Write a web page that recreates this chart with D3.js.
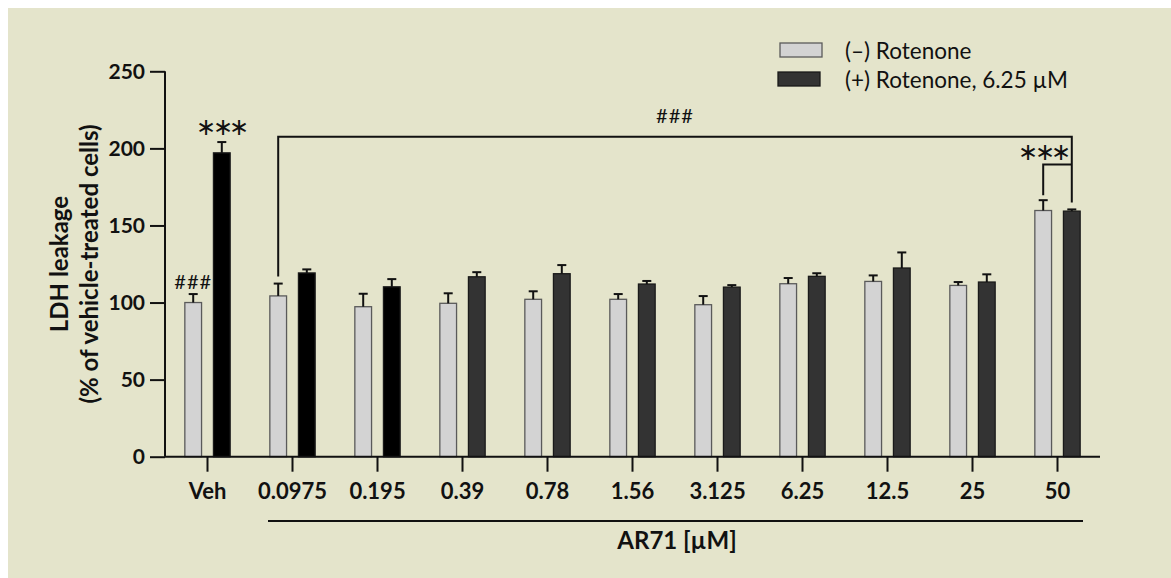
<!DOCTYPE html>
<html>
<head>
<meta charset="utf-8">
<script src="https://cdn.jsdelivr.net/npm/d3@7"></script>
<style>
  html, body { margin: 0; padding: 0; background: #ffffff; }
  svg { display: block; }
  text { font-family: Lato, "Open Sans", sans-serif; fill: #111; }
</style>
</head>
<body>
<svg id="chart" width="1171" height="578"></svg>
<script>
// LDH leakage per treatment group
const categories = ["Veh", "0.0975", "0.195", "0.39", "0.78", "1.56", "3.125", "6.25", "12.5", "25", "50"];
const seriesNames = ["(\u2013) Rotenone", "(+) Rotenone, 6.25 \u00b5M"];
const minusRotenone = [100, 104.3, 97.3, 99.5, 102.1, 102.1, 98.6, 112.2, 113.7, 111.1, 159.7];
const minusRotenoneSem = [5.5, 8.0, 8.4, 6.5, 5.2, 3.4, 5.6, 3.7, 3.9, 2.2, 6.7];
const plusRotenone = [197.1, 119.2, 110.2, 116.7, 118.7, 112.0, 110.0, 117.0, 122.4, 113.3, 159.3];
const plusRotenoneSem = [7.0, 2.3, 5.0, 3.0, 5.6, 2.0, 1.3, 2.0, 10.1, 5.0, 1.1];
const yTicks = [0, 50, 100, 150, 200, 250];
// significance bracket levels (in y units)
const bracketOuterLevel = 207.5;
const bracketInnerLevel = 189.6;

const svg = d3.select("#chart");
const W = 1171, H = 578;

svg.append("rect").attr("x", 8).attr("y", 8).attr("width", W - 8).attr("height", H - 8)
  .attr("fill", "#e4e4cb");

const x0 = d3.scaleBand().domain(categories).range([165, 1100]).padding(0);
const x1 = d3.scaleBand().domain([0, 1]).range([0, x0.bandwidth()])
  .paddingInner(0.416).paddingOuter(0.694);
const y = d3.scaleLinear().domain([0, 250]).range([456.7, 71.3]);

const rows = categories.map((c, i) => ({
  cat: c, i,
  bars: [
    { s: 0, v: minusRotenone[i], e: minusRotenoneSem[i] },
    { s: 1, v: plusRotenone[i], e: plusRotenoneSem[i] }
  ]
}));

const cx = (cat, s) => x0(cat) + x1(s) + x1.bandwidth() / 2;

// bars with upper SEM whiskers
const g = svg.append("g");
const groups = g.selectAll("g.cat").data(rows).join("g").attr("class", "cat");
groups.each(function (row) {
  const sel = d3.select(this);
  row.bars.forEach(b => {
    const fill = b.s === 0 ? "#d3d3d3" : (row.i < 3 ? "#000000" : "#333333");
    const stroke = b.s === 0 ? "#5a5a5a" : "#1a1a1a";
    const xl = x0(row.cat) + x1(b.s);
    sel.append("rect")
      .attr("x", xl).attr("y", y(b.v))
      .attr("width", x1.bandwidth()).attr("height", y(0) - y(b.v))
      .attr("fill", fill).attr("stroke", stroke).attr("stroke-width", 1.3);
    const c = cx(row.cat, b.s);
    sel.append("line").attr("x1", c).attr("x2", c)
      .attr("y1", y(b.v)).attr("y2", y(b.v + b.e))
      .attr("stroke", "#111").attr("stroke-width", 2);
    sel.append("line").attr("x1", c - 4.5).attr("x2", c + 4.5)
      .attr("y1", y(b.v + b.e)).attr("y2", y(b.v + b.e))
      .attr("stroke", "#111").attr("stroke-width", 2);
  });
});

// y axis
const yAxis = d3.axisLeft(y).tickValues(yTicks).tickSize(15).tickPadding(5);
const ya = svg.append("g").attr("transform", "translate(165,0)").call(yAxis);
ya.select(".domain").attr("stroke", "#111").attr("stroke-width", 2)
  .attr("d", `M0,${y(250)}V${y(0)}`);
ya.selectAll(".tick line").attr("stroke", "#111").attr("stroke-width", 2);
ya.selectAll(".tick text").attr("font-family", "Lato").attr("font-weight", 700)
  .attr("font-size", 21).attr("fill", "#111");

// x axis
const xAxis = d3.axisBottom(x0).tickSize(15).tickPadding(12);
const xa = svg.append("g").attr("transform", `translate(0,${y(0)})`).call(xAxis);
xa.select(".domain").attr("stroke", "#111").attr("stroke-width", 2)
  .attr("d", `M165,0H1100`);
xa.selectAll(".tick line").attr("stroke", "#111").attr("stroke-width", 2);
xa.selectAll(".tick text").attr("font-family", "Lato").attr("font-weight", 700)
  .attr("font-size", 22).attr("fill", "#111");

// y title
const yt = svg.append("text").attr("transform", `translate(0,${(y(0) + y(250)) / 2}) rotate(-90)`)
  .attr("text-anchor", "middle").attr("font-weight", 700).attr("font-size", 24);
yt.append("tspan").attr("x", 0).attr("y", 68).text("LDH leakage");
yt.append("tspan").attr("x", 0).attr("y", 98).text("(% of vehicle-treated cells)");

// x group bar and title
svg.append("line").attr("x1", x0("0.0975") + 18).attr("x2", x0.range()[1] - 17)
  .attr("y1", 521).attr("y2", 521).attr("stroke", "#111").attr("stroke-width", 2);
svg.append("text").attr("x", 677).attr("y", 549).attr("text-anchor", "middle")
  .attr("font-weight", 700).attr("font-size", 24).text("AR71 [\u00b5M]");

// significance marks
const hashStyle = sel => sel.attr("font-family", "DejaVu Sans").attr("font-size", 20)
  .attr("letter-spacing", 1).attr("text-anchor", "middle").attr("fill", "#111");
const starStyle = sel => sel.attr("font-family", "DejaVu Sans").attr("font-size", 24)
  .attr("letter-spacing", -3.5).attr("text-anchor", "middle").attr("fill", "#111");

svg.append("text").attr("x", cx("Veh", 0)).attr("y", y(minusRotenone[0] + minusRotenoneSem[0]) - 5)
  .call(hashStyle).text("###");
svg.append("text").attr("x", cx("Veh", 1) - 1).attr("y", y(plusRotenone[0] + plusRotenoneSem[0]) - 7)
  .call(starStyle).text("\u2217\u2217\u2217");

const xa1 = cx("0.0975", 0), xb1 = cx("50", 1), xb0 = cx("50", 0);
svg.append("path").attr("fill", "none").attr("stroke", "#111").attr("stroke-width", 2)
  .attr("d", `M${xa1},${y(minusRotenone[1] + minusRotenoneSem[1]) - 7}V${y(bracketOuterLevel)}H${xb1}V${y(plusRotenone[10] + plusRotenoneSem[10]) - 7}`);
svg.append("path").attr("fill", "none").attr("stroke", "#111").attr("stroke-width", 2)
  .attr("d", `M${xb0},${y(minusRotenone[10] + minusRotenoneSem[10]) - 5}V${y(bracketInnerLevel)}H${xb1}`);
svg.append("text").attr("x", (xa1 + xb1) / 2).attr("y", y(bracketOuterLevel) - 14)
  .call(hashStyle).text("###");
svg.append("text").attr("x", xb0).attr("y", y(bracketInnerLevel) - 4)
  .call(starStyle).text("\u2217\u2217\u2217");

// legend
const legend = svg.append("g");
[{ fill: "#d3d3d3", stroke: "#5a5a5a", dx: 780, yy: 43 }, { fill: "#333333", stroke: "#1a1a1a", dx: 778, yy: 72 }]
  .forEach((d, i) => {
    legend.append("rect").attr("x", d.dx).attr("y", d.yy).attr("width", 42).attr("height", 14)
      .attr("fill", d.fill).attr("stroke", d.stroke).attr("stroke-width", 1.3);
    legend.append("text").attr("x", 845).attr("y", d.yy + 16)
      .attr("font-size", 22.5).attr("font-weight", 400).text(seriesNames[i]);
  });
</script>
</body>
</html>
